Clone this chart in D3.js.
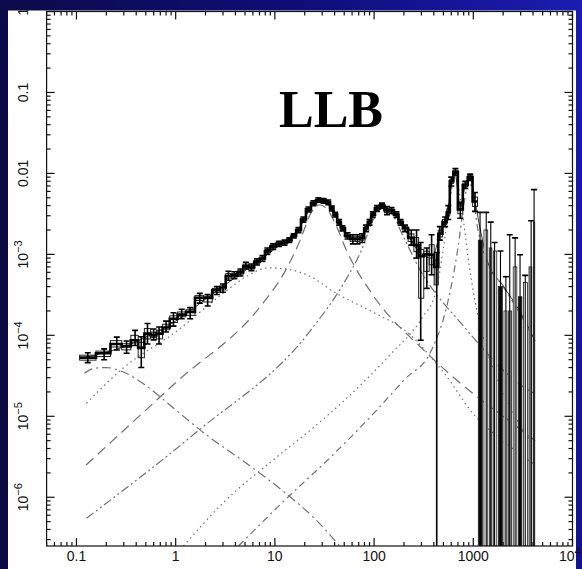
<!DOCTYPE html>
<html><head><meta charset="utf-8">
<script src="https://cdn.jsdelivr.net/npm/d3@7"></script>
<style>html,body{margin:0;padding:0;background:#fff;} svg{display:block}</style>
</head><body>
<svg id="c" width="582" height="569"></svg>
<script>
// ---------------- data ----------------
const ell = [0.13,0.19,0.255,0.32,0.39,0.45,0.52,0.6,0.68,0.8,0.95,1.15,1.4,1.75,2.1,2.6,3.0,3.4,3.9,4.5,5.1,5.8,6.6,7.5,8.4,9.6,11,12.5,14,15.5,17.3,19.4,21.8,24.5,27.5,31,34.5,37.5,40.5,44.5,48,54,61,68,76,83,90,97,107,120,135,150,168,185,205,237,268,295,340,380,428,460,520,560,600,660,740,830,930,1040,1170,1350,1500,1640,1880,2130,2330,2640,2960,3340,3830,4100];
const power = [5.3e-5,6.0e-5,7.8e-5,7.3e-5,8.7e-5,7.0e-5,1.05e-4,1.0e-4,1.05e-4,1.25e-4,1.6e-4,1.8e-4,1.95e-4,2.9e-4,2.9e-4,3.6e-4,3.9e-4,5.4e-4,5.5e-4,6.0e-4,7.2e-4,6.9e-4,8.1e-4,8.9e-4,1.1e-3,1.25e-3,1.35e-3,1.4e-3,1.5e-3,1.7e-3,2.0e-3,2.7e-3,3.6e-3,4.3e-3,4.7e-3,4.6e-3,4.4e-3,3.7e-3,3.1e-3,2.5e-3,2.1e-3,1.7e-3,1.55e-3,1.55e-3,1.6e-3,2.1e-3,2.5e-3,3.1e-3,3.7e-3,4.0e-3,3.5e-3,3.5e-3,3.1e-3,2.5e-3,2.1e-3,1.6e-3,1.3e-3,9.5e-4,1.0e-3,9.9e-4,7.0e-4,1.8e-3,2.5e-3,3.3e-3,8.0e-3,1.05e-2,3.6e-3,7.2e-3,9.0e-3,4.5e-3,1.5e-3,2.0e-3,1.2e-3,1.1e-3,4e-4,2e-4,2e-4,7e-4,3e-4,4.5e-4,7e-4,2.5e-3];
const errLo = [4.6e-5,5.0e-5,6.6e-5,6.0e-5,7.5e-5,4.0e-5,7.8e-5,8.8e-5,7.8e-5,1.1e-4,1.3e-4,1.6e-4,1.6e-4,2.5e-4,2.3e-4,3.2e-4,3.4e-4,4.8e-4,5.0e-4,5.4e-4,6.6e-4,6.3e-4,7.4e-4,8.2e-4,1.0e-3,1.15e-3,1.25e-3,1.3e-3,1.4e-3,1.6e-3,1.85e-3,2.5e-3,3.35e-3,4.0e-3,4.4e-3,4.3e-3,4.1e-3,3.45e-3,2.9e-3,2.3e-3,1.95e-3,1.55e-3,1.35e-3,1.35e-3,1.4e-3,1.9e-3,2.3e-3,2.85e-3,3.4e-3,3.7e-3,3.1e-3,3.2e-3,2.85e-3,2.3e-3,1.9e-3,1.3e-3,9e-4,8.7e-5,3.8e-4,5.6e-4,null,1.5e-3,2.2e-3,2.7e-3,7e-3,9.5e-3,2.8e-3,6.5e-3,8.2e-3,3.4e-3,null,null,null,null,null,null,null,null,null,null,null,null];
const errHi = [6.1e-5,6.8e-5,9.5e-5,8.5e-5,1.15e-4,9.6e-5,1.4e-4,1.2e-4,1.27e-4,1.5e-4,1.9e-4,2.1e-4,2.2e-4,3.3e-4,3.2e-4,4.0e-4,4.3e-4,6.2e-4,6.1e-4,6.6e-4,8.0e-4,7.6e-4,8.8e-4,9.7e-4,1.2e-3,1.35e-3,1.45e-3,1.5e-3,1.6e-3,1.8e-3,2.15e-3,2.9e-3,3.85e-3,4.6e-3,5.0e-3,4.9e-3,4.7e-3,3.95e-3,3.3e-3,2.7e-3,2.25e-3,1.85e-3,1.75e-3,1.75e-3,1.8e-3,2.3e-3,2.7e-3,3.35e-3,4.0e-3,4.3e-3,3.9e-3,3.8e-3,3.35e-3,2.7e-3,2.3e-3,2.0e-3,2.0e-3,1.4e-3,1.2e-3,1.75e-3,1.05e-3,2.2e-3,2.9e-3,4.0e-3,9.0e-3,1.15e-2,4.4e-3,8.0e-3,9.8e-3,5.8e-3,3.3e-3,3.3e-3,2.5e-3,1.4e-3,1.1e-3,5.3e-4,1.75e-3,1.6e-3,9.9e-4,5.5e-4,2.6e-3,6.3e-3];

// model components
const compA = [[0.12,3.4e-5],[0.15,3.9e-5],[0.2,4.0e-5],[0.3,3.5e-5],[0.5,2.4e-5],[1,1.2e-5],[2,6e-6],[5,2.7e-6],[12,1.2e-6],[25,5.5e-7],[45,2.5e-7]];
const compB = [[0.125,2.5e-6],[1,2.6e-5],[7.6,2.5e-4],[12,5.5e-4],[18,1.5e-3],[23,3.2e-3],[28,4.1e-3],[33,3.7e-3],[40,2.5e-3],[53,1.1e-3],[100,3e-4],[300,7e-5],[1000,1.9e-5],[2000,1e-5],[4200,5e-6]];
const compC = [[0.126,5.5e-7],[1.6,6.3e-6],[23,1.16e-4],[50,4.5e-4],[74,1.1e-3],[100,2.8e-3],[120,3.7e-3],[150,3.2e-3],[200,1.6e-3],[300,6e-4],[500,2.5e-4],[660,1.7e-4],[1120,8e-5],[1770,4.3e-5],[3200,2.3e-5],[4200,1.9e-5]];
const compD = [[0.126,1.45e-5],[0.3,4e-5],[1,1.1e-4],[3,3.3e-4],[5,5.2e-4],[8.6,6.8e-4],[14,6.5e-4],[23,5.3e-4],[40,3.4e-4],[100,1.9e-4],[205,1.15e-4],[500,3.5e-5],[1050,1e-5],[1800,5.5e-6],[4200,2.5e-6]];
const compE = [[1.2,2.5e-7],[3,8.5e-7],[10,3e-6],[24.6,7.3e-6],[53.6,1.7e-5],[150,6e-5],[300,1.6e-4],[420,3.5e-4],[500,1.2e-3],[580,4.5e-3],[650,9e-3],[720,6e-3],[800,2.5e-3],[900,8e-4],[1050,2.5e-4],[1400,6e-5],[2000,2e-5],[4200,4e-6]];
const compF = [[4.3,2.5e-7],[12,8.7e-7],[40,3.5e-6],[100,1.1e-5],[200,2.8e-5],[380,6.6e-5],[550,2.5e-4],[700,1.2e-3],[800,4e-3],[900,8e-3],[980,6e-3],[1100,2.2e-3],[1320,9.3e-4],[2000,4e-4],[3000,1.8e-4],[4200,8.3e-5]];
const total = [[0.12,5.3e-5],[0.2,6.2e-5],[0.3,7.2e-5],[0.5,9.5e-5],[1,1.5e-4],[2,2.8e-4],[4,5.2e-4],[8,9.5e-4],[12,1.4e-3],[18,2.2e-3],[24,4.1e-3],[29,4.7e-3],[35,4.1e-3],[45,2.4e-3],[60,1.6e-3],[75,1.7e-3],[95,3e-3],[120,3.9e-3],[150,3.4e-3],[200,2.1e-3],[280,1.1e-3],[380,9e-4],[450,1.6e-3],[560,4e-3],[650,1.03e-2],[740,4e-3],[840,7.5e-3],[920,9e-3],[1040,4.5e-3],[1200,1.8e-3],[1400,8e-4],[2000,4.1e-4],[3000,1.9e-4],[4200,8.5e-5]];

const xTicks = [0.1,1,10,100,1000,10000];
const xTickLabels = [["0.1"],["1"],["10"],["100"],["1000"],["10","4"]];
const yTicks = [1,0.1,0.01,1e-3,1e-4,1e-5,1e-6];
const yTickLabels = [["1"],["0.1"],["0.01"],["10","\u22123"],["10","\u22124"],["10","\u22125"],["10","\u22126"]];
const titleText = "LLB";

// ---------------- layout ----------------
const W = 582, H = 569;
const L = 46.6, R = 572.5, T = 11.5, B = 546;
const xMin = 0.05, xMax = 1e4, yMin = 2.5e-7, yMax = 1;
const x = d3.scaleLog().domain([xMin, xMax]).range([L, R]);
const y = d3.scaleLog().domain([yMin, yMax]).range([B, T]);

const svg = d3.select("#c");
const defs = svg.append("defs");
const grad = defs.append("linearGradient").attr("id","bg").attr("x1","0").attr("y1","0.3").attr("x2","1").attr("y2","0");
grad.append("stop").attr("offset","0").attr("stop-color","#0b0a42");
grad.append("stop").attr("offset","0.55").attr("stop-color","#0e0d78");
grad.append("stop").attr("offset","1").attr("stop-color","#1c1cb2");
defs.append("clipPath").attr("id","plot").append("rect").attr("x",L).attr("y",T).attr("width",R-L).attr("height",B-T);

svg.append("rect").attr("width",W).attr("height",H).attr("fill","#fff");

const g = svg.append("g").attr("clip-path","url(#plot)");
const line = d3.line().x(d=>x(d[0])).y(d=>y(d[1])).curve(d3.curveMonotoneX);

const comps = [
  {d: compA, dash: "9,4,2,4"},
  {d: compB, dash: "10,6"},
  {d: compC, dash: "9,3,2,3,2,3"},
  {d: compD, dash: "1.5,3.5"},
  {d: compE, dash: "1.5,3.5"},
  {d: compF, dash: "7,4,2,4"}
];
comps.forEach(c => {
  g.append("path").attr("d", line(c.d)).attr("fill","none")
   .attr("stroke","#707070").attr("stroke-width",1.2).attr("stroke-dasharray",c.dash);
});
g.append("path").attr("d", line(total)).attr("fill","none").attr("stroke","#333").attr("stroke-width",1);

// bins
const bins = ell.map((e,i) => {
  const prev = i>0 ? ell[i-1] : e*e/ell[i+1];
  const next = i<ell.length-1 ? ell[i+1] : e*e/ell[i-1];
  return {e, v: power[i], lo: errLo[i], hi: errHi[i], x0: Math.sqrt(prev*e), x1: Math.sqrt(e*next), high: e > 1100};
});

// boxes
const highFills = ["#111","#fff","#9a9a9a","#fff"];
let hk = 0;
bins.forEach(b => {
  let top, bot, fill, xa = x(b.x0), xb = x(b.x1);
  if (b.high) {
    top = b.v; bot = yMin;
    fill = highFills[hk++ % highFills.length];
    xa += 0.8; xb -= 0.8;
  } else {
    top = b.v*Math.sqrt(b.hi/b.v);
    bot = b.lo ? b.v*Math.sqrt(b.lo/b.v) : b.v*0.6;
    fill = b.lo ? "none" : "#9a9a9a";
  }
  g.append("rect").attr("x",xa).attr("y",y(top)).attr("width",Math.max(1,xb-xa)).attr("height",y(bot)-y(top))
   .attr("fill", fill).attr("stroke","#222").attr("stroke-width",b.high?0.8:1);
});

// thick step line
const stepBins = bins.filter(b => !b.high);
let sp = "";
stepBins.forEach((b,i) => {
  if (i===0) sp += `M${x(b.x0)},${y(b.v)}`; else sp += `V${y(b.v)}`;
  sp += `H${x(b.x1)}`;
});
g.append("path").attr("d",sp).attr("fill","none").attr("stroke","#000").attr("stroke-width",2.6);

// error bars
bins.forEach(b => {
  const cx = x(b.e);
  const yl = y(b.lo ? b.lo : yMin), yh = y(b.hi);
  const cw = 3;
  g.append("line").attr("x1",cx).attr("x2",cx).attr("y1",yl).attr("y2",yh).attr("stroke","#000").attr("stroke-width",b.high?1.1:1.6);
  g.append("line").attr("x1",cx-cw).attr("x2",cx+cw).attr("y1",yh).attr("y2",yh).attr("stroke","#000").attr("stroke-width",1.6);
  if (b.lo) g.append("line").attr("x1",cx-cw).attr("x2",cx+cw).attr("y1",yl).attr("y2",yl).attr("stroke","#000").attr("stroke-width",1.6);
});

// ---------------- axes ----------------
const ax = svg.append("g");
ax.append("rect").attr("x",L).attr("y",T).attr("width",R-L).attr("height",B-T).attr("fill","none").attr("stroke","#111").attr("stroke-width",1.2);
const tickCol = "#111";
function minorVals(a, b) {
  const out = [];
  for (let p = Math.floor(Math.log10(a)); p <= Math.ceil(Math.log10(b)); p++)
    for (let m = 1; m < 10; m++) { const v = m*Math.pow(10,p); if (v>=a*0.9999 && v<=b*1.0001) out.push({v, major: m===1}); }
  return out;
}
minorVals(xMin, xMax).forEach(t => {
  const px = x(t.v), len = t.major ? 8 : 4;
  ax.append("line").attr("x1",px).attr("x2",px).attr("y1",B).attr("y2",B-len).attr("stroke",tickCol).attr("stroke-width",1.2);
  ax.append("line").attr("x1",px).attr("x2",px).attr("y1",T).attr("y2",T+len).attr("stroke",tickCol).attr("stroke-width",1.2);
});
minorVals(yMin, yMax).forEach(t => {
  const py = y(t.v), len = t.major ? 8 : 4;
  ax.append("line").attr("x1",L).attr("x2",L+len).attr("y1",py).attr("y2",py).attr("stroke",tickCol).attr("stroke-width",1.2);
  ax.append("line").attr("x1",R).attr("x2",R-len).attr("y1",py).attr("y2",py).attr("stroke",tickCol).attr("stroke-width",1.2);
});

const font = "'Liberation Sans', Arial, sans-serif";
yTicks.forEach((v,i) => {
  const lab = yTickLabels[i];
  const t = ax.append("text").attr("transform",`translate(28,${y(v)}) rotate(-90)`).attr("text-anchor","middle")
    .attr("font-family",font).attr("font-size",14).attr("fill","#111");
  t.append("tspan").text(lab[0]);
  if (lab.length>1) t.append("tspan").attr("dy",-6).attr("font-size",11).text(lab[1]);
});

svg.append("text").attr("x",279).attr("y",127).attr("font-family","'Liberation Serif', 'Times New Roman', serif")
  .attr("font-weight","bold").attr("font-size",52).attr("fill","#000").text(titleText);

// blue frame on top
svg.append("path").attr("fill-rule","evenodd").attr("fill","url(#bg)")
  .attr("d",`M0,0H${W}V${H}H0Z M8,10.4V${H}H576V10.4Z`);

// x tick labels (drawn last so the right-most one stays readable at the edge)
xTicks.forEach((v,i) => {
  const lab = xTickLabels[i];
  const t = ax.append("text").attr("y", 561).attr("font-family",font).attr("font-size",14).attr("fill","#111");
  if (lab.length>1) t.attr("x", Math.min(x(v)-12, W-23)).attr("text-anchor","start");
  else t.attr("x", x(v)).attr("text-anchor","middle");
  t.append("tspan").text(lab[0]);
  if (lab.length>1) t.append("tspan").attr("dy",-6).attr("font-size",11).text(lab[1]);
});
ax.raise();
</script>
</body></html>
